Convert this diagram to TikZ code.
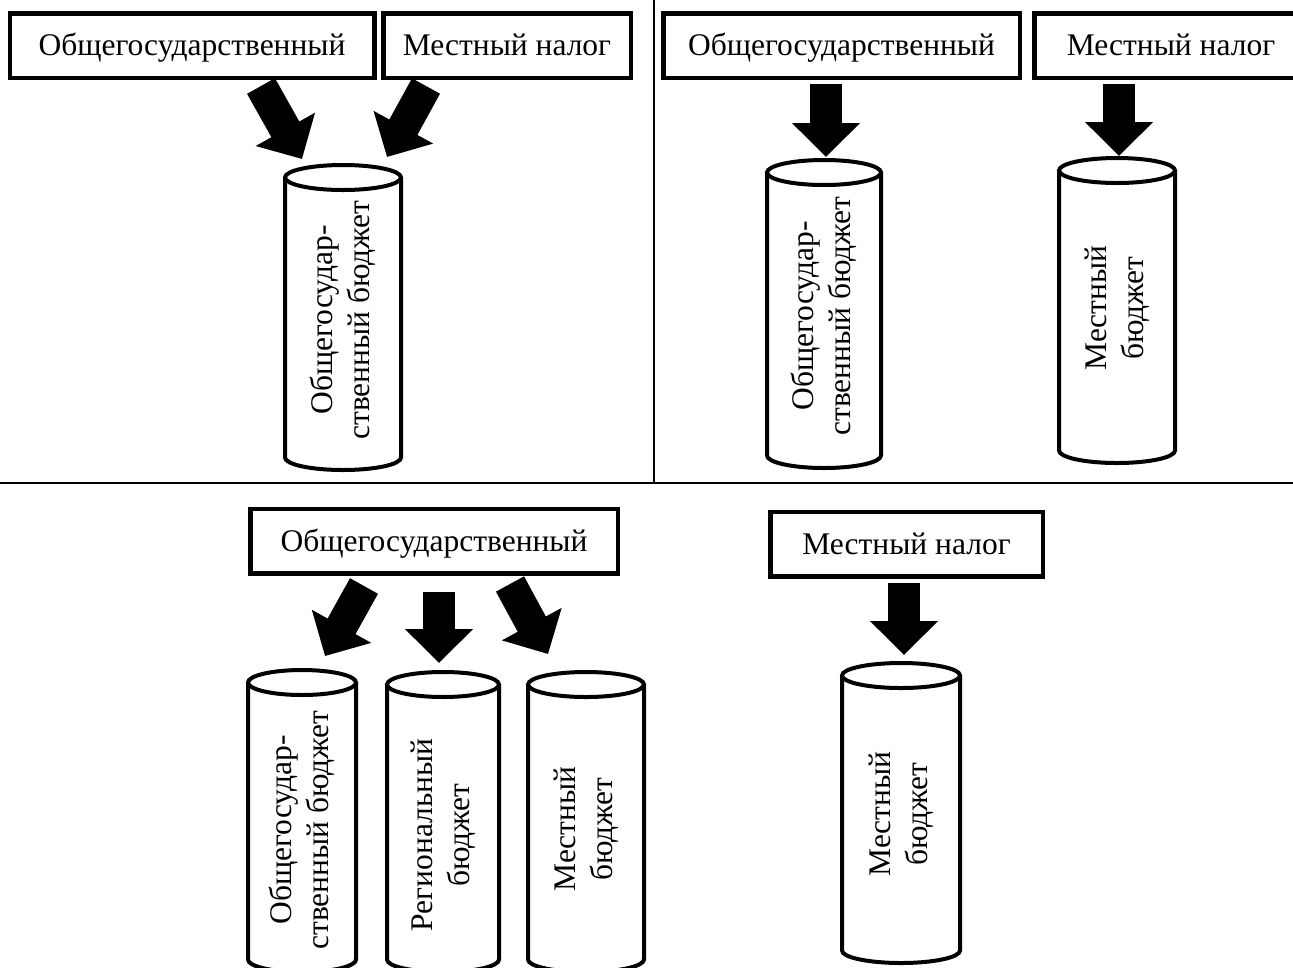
\documentclass[tikz,border=0pt]{standalone}
\usepackage{fontspec}
\setmainfont{Liberation Serif}
\usetikzlibrary{arrows.meta}
\tikzset{
 tbox/.style={draw, line width=4.5pt, fill=white, inner sep=0pt, outer sep=0pt,
   font=\fontsize{31.5}{37}\selectfont, minimum height=64.5pt,
   text height=21pt, text depth=1pt},
 cylline/.style={draw, line width=4pt},
 ctext/.style={rotate=90, align=center, font=\fontsize{31.5}{37}\selectfont, inner sep=0pt},
 barrow/.style={line width=32pt, -{Triangle[width=66pt,length=34pt]}},
 divline/.style={line width=2pt}
}
% cx, top, bottom, r, name, text, text-y
\newcommand\mycyl[7]{%
  \draw[cylline] ({#1-#4},{#2+12.5}) -- ({#1-#4},{#3-12.5})
     arc[start angle=180,end angle=360,x radius=#4pt,y radius=12.5pt]
     -- ({#1+#4},{#2+12.5});
  \draw[cylline] (#1,{#2+12.5}) ellipse [x radius=#4pt, y radius=12.5pt];
  \node[ctext] (#5) at (#1,#7) {#6};
}
\begin{document}
\begin{tikzpicture}[x=1pt,y=-1pt]
\useasboundingbox (0,0) rectangle (1293,967);
\clip (0,0) rectangle (1293,967);
% divider lines
\draw[divline] (0,483) -- (1293,483);
\draw[divline] (654,0) -- (654,483);
% boxes
\node[tbox, minimum width=364.5pt] (b1) at (192,45.5) {Общегосударственный};
\node[tbox, minimum width=247.5pt] (b2) at (507,45.5) {Местный налог};
\node[tbox, minimum width=356.5pt] (b3) at (841.5,45.5) {Общегосударственный};
\node[tbox, minimum width=273.5pt] (b4) at (1171,45.5) {Местный налог};
\node[tbox, minimum width=367.5pt] (b5) at (434,541) {Общегосударственный};
\node[tbox, minimum width=272.5pt] (b6) at (906.5,544) {Местный налог};
% cylinders
\mycyl{343}{165}{470}{58}{c1}{Общегосудар-\\ственный бюджет}{320}
\mycyl{824}{160}{468}{57}{c2}{Общегосудар-\\ственный бюджет}{316}
\mycyl{1117}{158}{463}{58}{c3}{Местный\\бюджет}{308}
\mycyl{302}{670}{972}{54}{c4}{Общегосудар-\\ственный бюджет}{830}
\mycyl{443}{672}{972}{56}{c5}{Региональный\\бюджет}{835}
\mycyl{586}{672}{972}{58}{c6}{Местный\\бюджет}{829}
\mycyl{901}{663}{963}{59}{c7}{Местный\\бюджет}{814}
% arrow end points
\coordinate (a1s) at (261,86);   \coordinate (a1e) at (302,159);
\coordinate (a2s) at (426,86);   \coordinate (a2e) at (387,157);
\coordinate (a3s) at (826,84);   \coordinate (a3e) at (826,157);
\coordinate (a4s) at (1119,84);  \coordinate (a4e) at (1119,156);
\coordinate (a5s) at (364,586);  \coordinate (a5e) at (325,656);
\coordinate (a6s) at (439,592);  \coordinate (a6e) at (439,663);
\coordinate (a7s) at (510,584);  \coordinate (a7e) at (548,654);
\coordinate (a8s) at (904,583);  \coordinate (a8e) at (904,655);
\draw[barrow] (a1s) -- (a1e);
\draw[barrow] (a2s) -- (a2e);
\draw[barrow] (a3s) -- (a3e);
\draw[barrow] (a4s) -- (a4e);
\draw[barrow] (a5s) -- (a5e);
\draw[barrow] (a6s) -- (a6e);
\draw[barrow] (a7s) -- (a7e);
\draw[barrow] (a8s) -- (a8e);
\end{tikzpicture}
\end{document}
